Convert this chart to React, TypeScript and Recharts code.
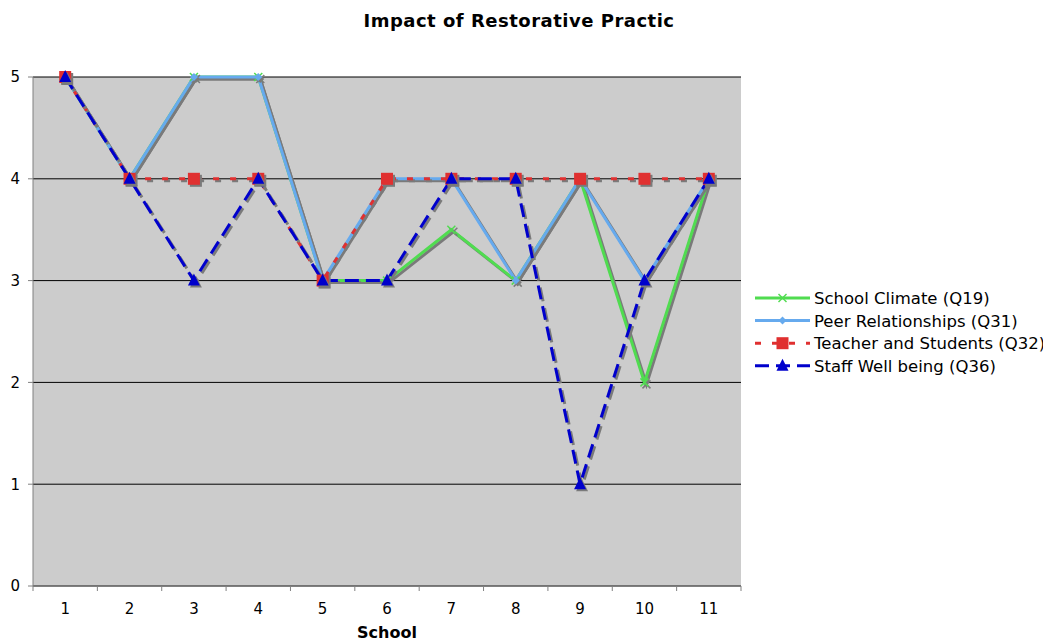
import React from "react";
import { LineChart, Line, XAxis, YAxis, CartesianGrid } from "recharts";

const schools = ["1", "2", "3", "4", "5", "6", "7", "8", "9", "10", "11"];
const climateQ19 = [5, 4, 5, 5, 3, 3, 3.5, 3, 4, 2, 4];
const peerQ31 = [5, 4, 5, 5, 3, 4, 4, 3, 4, 3, 4];
const teacherQ32 = [5, 4, 4, 4, 3, 4, 4, 4, 4, 4, 4];
const staffQ36 = [5, 4, 3, 4, 3, 3, 4, 4, 1, 3, 4];
const yTicks = [0, 1, 2, 3, 4, 5];

const data = schools.map((s, i) => ({
    school: s,
    climate: climateQ19[i],
    peer: peerQ31[i],
    teacher: teacherQ32[i],
    staff: staffQ36[i],
}));

const FONT = "'DejaVu Sans', Verdana, sans-serif";
const GREEN = "#50DC50";
const LIGHTBLUE = "#66AAEE";
const RED = "#E03030";
const DARKBLUE = "#0000CC";

const PLOT_LEFT = 33;
const PLOT_RIGHT = 741;
const PLOT_TOP = 77;
const PLOT_BOTTOM = 586;
const BAND = (PLOT_RIGHT - PLOT_LEFT) / schools.length;

const series = [
    { key: "climate", name: "School Climate (Q19)", color: GREEN, dash: undefined, marker: "x" },
    { key: "peer", name: "Peer Relationships (Q31)", color: LIGHTBLUE, dash: undefined, marker: "diamond" },
    { key: "teacher", name: "Teacher and Students (Q32)", color: RED, dash: "6 11", marker: "square" },
    { key: "staff", name: "Staff Well being (Q36)", color: DARKBLUE, dash: "14 7", marker: "triangle" },
];

function Marker({ type, cx, cy, color }: { type: string; cx: number; cy: number; color: string }) {
    if (type === "x") {
        return (
            <g stroke={color} strokeWidth={1.5}>
                <line x1={cx - 4} y1={cy - 4} x2={cx + 4} y2={cy + 4} />
                <line x1={cx - 4} y1={cy + 4} x2={cx + 4} y2={cy - 4} />
            </g>
        );
    }
    if (type === "diamond") {
        return <polygon points={`${cx},${cy - 4} ${cx + 4},${cy} ${cx},${cy + 4} ${cx - 4},${cy}`} fill={color} />;
    }
    if (type === "square") {
        return <rect x={cx - 6} y={cy - 6} width={12} height={12} fill={color} />;
    }
    return <polygon points={`${cx},${cy - 7} ${cx + 6},${cy + 5} ${cx - 6},${cy + 5}`} fill={color} />;
}

const makeDot = (type: string, color: string) => (props: any) => {
    const { cx, cy, index } = props;
    return (
        <g key={`${type}-${index}`}>
            <Marker type={type} cx={cx} cy={cy} color={color} />
        </g>
    );
};

// category ticks sit on band edges, labels in the middle (Excel style)
const XTick = (props: any) => {
    const { x, payload, index } = props;
    const left = x - BAND / 2;
    return (
        <g>
            <line x1={left} y1={PLOT_BOTTOM} x2={left} y2={PLOT_BOTTOM + 5} stroke="#808080" />
            {index === schools.length - 1 && (
                <line x1={x + BAND / 2} y1={PLOT_BOTTOM} x2={x + BAND / 2} y2={PLOT_BOTTOM + 5} stroke="#808080" />
            )}
            <text x={x} y={614} textAnchor="middle" fontSize={15} fontFamily={FONT} fill="#000">
                {payload.value}
            </text>
        </g>
    );
};

export default function App() {
    return (
        <div style={{ position: "absolute", left: 0, top: 0, width: 1043, height: 641, overflow: "hidden", background: "#fff" }}>
            <style>{`
                .recharts-line-curve, .recharts-line-dots { filter: drop-shadow(2px 2px 0px #7a7a7a); }
            `}</style>
            <LineChart
                width={1043}
                height={641}
                data={data}
                margin={{ top: PLOT_TOP, right: 1043 - PLOT_RIGHT, bottom: 0, left: 0 }}
            >
                <CartesianGrid vertical={false} stroke="#000" fill="#CCCCCC" />
                <XAxis
                    dataKey="school"
                    padding={{ left: BAND / 2, right: BAND / 2 }}
                    height={641 - PLOT_BOTTOM}
                    stroke="#808080"
                    tickLine={false}
                    tick={<XTick />}
                    interval={0}
                />
                <YAxis
                    width={PLOT_LEFT}
                    domain={[0, 5]}
                    ticks={yTicks}
                    stroke="#808080"
                    tickSize={5}
                    tickMargin={8}
                    tick={{ fontFamily: FONT, fontSize: 15, fill: "#000" }}
                />
                {series.map((s) => (
                    <Line
                        key={s.key}
                        dataKey={s.key}
                        name={s.name}
                        type="linear"
                        stroke={s.color}
                        strokeWidth={3}
                        strokeDasharray={s.dash}
                        dot={makeDot(s.marker, s.color)}
                        activeDot={false}
                        isAnimationActive={false}
                    />
                ))}
            </LineChart>
            <svg width={1043} height={641} style={{ position: "absolute", left: 0, top: 0, pointerEvents: "none" }}>
                <text x={519} y={27} textAnchor="middle" fontFamily={FONT} fontWeight="bold" fontSize={18} letterSpacing={0.5}>
                    Impact of Restorative Practic
                </text>
                <text x={387} y={638} textAnchor="middle" fontFamily={FONT} fontWeight="bold" fontSize={16}>
                    School
                </text>
                {series.map((s, i) => {
                    const cy = 298 + i * 22.6;
                    return (
                        <g key={s.key}>
                            <line x1={755} y1={cy} x2={810} y2={cy} stroke={s.color} strokeWidth={3} strokeDasharray={s.dash} />
                            <Marker type={s.marker} cx={782.5} cy={cy} color={s.color} />
                            <text x={814} y={cy + 6} fontFamily={FONT} fontSize={16.5} fill="#000">
                                {s.name}
                            </text>
                        </g>
                    );
                })}
            </svg>
        </div>
    );
}
